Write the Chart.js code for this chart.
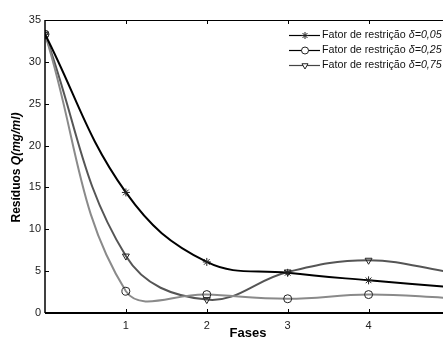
<!DOCTYPE html>
<html>
<head>
<meta charset="utf-8">
<script src="https://cdn.jsdelivr.net/npm/chart.js@4/dist/chart.umd.min.js"></script>
<style>
  html, body { margin: 0; padding: 0; background: #fff; }
  #wrap { width: 443px; height: 342px; }
</style>
</head>
<body>
<div id="wrap"><canvas id="c" width="443" height="342"></canvas></div>
<script>
// valores
var fases = [0, 1, 2, 3, 4, 5];
var delta005 = [33.3, 14.4, 6.1, 4.8, 3.9, 3.1];
var delta025 = [33.3, 2.6, 2.2, 1.7, 2.2, 1.8];
var delta075 = [33.3, 6.8, 1.6, 4.9, 6.3, 4.9];
var xTicks = [1, 2, 3, 4];
var legendas = ["δ=0,05", "δ=0,25", "δ=0,75"];

var FONT = "Liberation Sans, Arial, sans-serif";

function pontos(ys){
    var out = [];
    for(var i=0;i<fases.length;i++){
        out.push({x: fases[i], y: ys[i]});
    }
    return out;
}

function serie(label, ys, cor, estilo, rot){
    return {
        label : label,
        data : pontos(ys),
        borderColor : cor,
        borderWidth : 2,
        backgroundColor : "transparent",
        pointStyle : estilo,
        pointRotation : rot,
        pointRadius : 4,
        pointBorderColor : "#222",
        pointBorderWidth : 1,
        pointBackgroundColor : "transparent",
        tension : 0.4,
        fill : false
    };
}

var datasets = [
    serie(legendas[0], delta005, "#000", "star", 0),
    serie(legendas[1], delta025, "#8a8a8a", "circle", 0),
    serie(legendas[2], delta075, "#555", "triangle", 180)
];

// eixos, marcas internas, títulos e legenda estilo matlab
var moldura = {
    id : "moldura",
    afterDraw : function(chart){
        var ctx = chart.ctx, a = chart.chartArea;
        var xs = chart.scales.x, ys = chart.scales.y;
        ctx.save();
        ctx.strokeStyle = "#000";
        // bordas
        ctx.lineWidth = 1;
        ctx.beginPath();
        ctx.moveTo(a.left, a.top + 0.5); ctx.lineTo(a.right, a.top + 0.5);
        ctx.stroke();
        ctx.lineWidth = 1.5;
        ctx.beginPath();
        ctx.moveTo(a.left, a.top); ctx.lineTo(a.left, a.bottom);
        ctx.stroke();
        ctx.lineWidth = 2;
        ctx.beginPath();
        ctx.moveTo(a.left, a.bottom); ctx.lineTo(a.right, a.bottom);
        ctx.stroke();
        // marcas
        ctx.lineWidth = 1;
        ctx.beginPath();
        for(var i=0;i<xTicks.length;i++){
            var px = Math.round(xs.getPixelForValue(xTicks[i])) + 0.5;
            ctx.moveTo(px, a.bottom); ctx.lineTo(px, a.bottom - 4);
            ctx.moveTo(px, a.top); ctx.lineTo(px, a.top + 4);
        }
        for(var v=5; v<35; v+=5){
            var py = Math.round(ys.getPixelForValue(v)) + 0.5;
            ctx.moveTo(a.left, py); ctx.lineTo(a.left + 4, py);
        }
        ctx.stroke();

        // título eixo x
        ctx.fillStyle = "#000";
        ctx.font = "bold 13px " + FONT;
        ctx.textAlign = "center";
        ctx.textBaseline = "middle";
        ctx.fillText("Fases", 248, 333);

        // título eixo y
        ctx.save();
        ctx.translate(17, 167.5);
        ctx.rotate(-Math.PI/2);
        var t1 = "Resíduos ", t2 = "Q(mg/ml)";
        ctx.font = "bold 12px " + FONT;
        var w1 = ctx.measureText(t1).width;
        ctx.font = "italic bold 12px " + FONT;
        var w2 = ctx.measureText(t2).width;
        var x0 = -(w1 + w2)/2;
        ctx.textAlign = "left";
        ctx.font = "bold 12px " + FONT;
        ctx.fillText(t1, x0, 0);
        ctx.font = "italic bold 12px " + FONT;
        ctx.fillText(t2, x0 + w1, 0);
        ctx.restore();

        // legenda
        var rows = [35, 50, 65];
        for(var k=0;k<datasets.length;k++){
            var d = datasets[k], y = rows[k];
            ctx.strokeStyle = k === 2 ? "#444" : "#000";
            ctx.lineWidth = 1.2;
            ctx.beginPath();
            ctx.moveTo(289, y + 0.5); ctx.lineTo(320, y + 0.5);
            ctx.stroke();
            ctx.strokeStyle = "#222";
            ctx.fillStyle = "#fff";
            ctx.lineWidth = 1;
            Chart.helpers.drawPoint(ctx, {pointStyle: d.pointStyle, rotation: d.pointRotation, radius: 3.5, borderWidth: 1}, 305, y + 0.5);
            ctx.fillStyle = "#111";
            ctx.textAlign = "left";
            ctx.textBaseline = "middle";
            ctx.font = "10.7px " + FONT;
            var base = "Fator de restrição ";
            ctx.fillText(base, 322, y);
            var wb = ctx.measureText(base).width;
            ctx.font = "italic 10.7px " + FONT;
            ctx.fillText(d.label, 322 + wb, y);
        }
        ctx.restore();
    }
};

new Chart(document.getElementById("c"), {
    type : "line",
    data : { datasets : datasets },
    plugins : [moldura],
    options : {
        responsive : false,
        animation : false,
        layout : { autoPadding : false, padding : { top : 20, right : 0, left : 0, bottom : 0 } },
        plugins : {
            legend : { display : false },
            tooltip : { enabled : false }
        },
        scales : {
            x : {
                type : "linear",
                min : 0,
                max : 4.92,
                grid : { display : false, drawTicks : false },
                border : { display : false },
                afterBuildTicks : function(scale){
                    scale.ticks = xTicks.map(function(v){ return {value: v}; });
                },
                afterFit : function(scale){
                    scale.height = 29;
                    scale.paddingLeft = 0;
                    scale.paddingRight = 0;
                },
                ticks : {
                    padding : 6,
                    color : "#222",
                    font : { family : FONT, size : 11 }
                }
            },
            y : {
                min : 0,
                max : 35,
                grid : { display : false, drawTicks : false },
                border : { display : false },
                afterFit : function(scale){
                    scale.width = 45;
                    scale.paddingTop = 0;
                    scale.paddingBottom = 0;
                },
                ticks : {
                    stepSize : 5,
                    padding : 4,
                    color : "#222",
                    font : { family : FONT, size : 11 }
                }
            }
        }
    }
});
</script>
</body>
</html>
